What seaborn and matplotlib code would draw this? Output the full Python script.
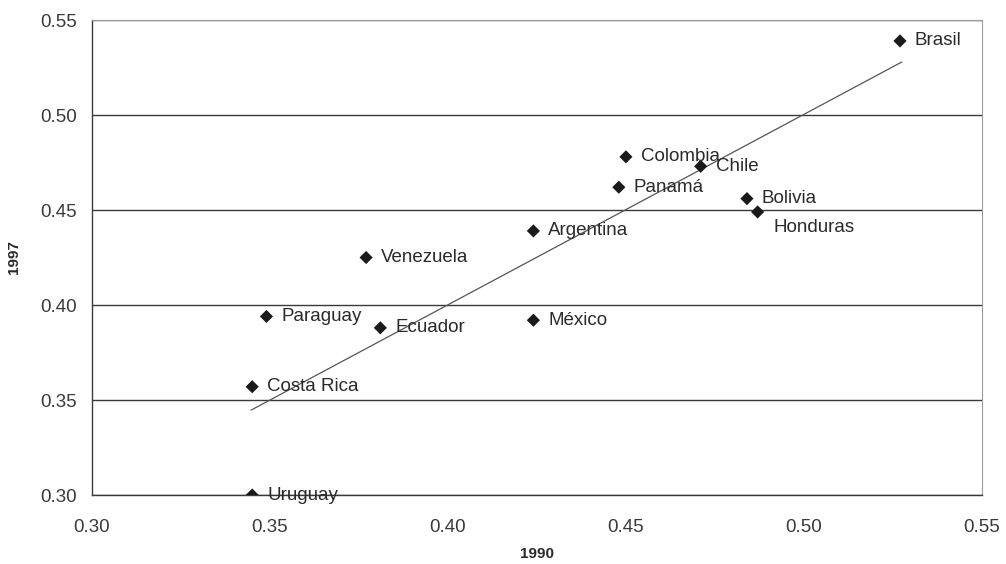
import matplotlib
matplotlib.use("Agg")
import matplotlib.pyplot as plt
import seaborn as sns
import pandas as pd

# Values (1990 vs 1997)
countries = ['Uruguay', 'Costa Rica', 'Paraguay', 'Venezuela', 'Ecuador', 'México',
             'Argentina', 'Colombia', 'Panamá', 'Chile', 'Bolivia', 'Honduras', 'Brasil']
y1990 = [0.345, 0.345, 0.349, 0.377, 0.381, 0.424, 0.424, 0.450, 0.448, 0.471, 0.484, 0.487, 0.527]
y1997 = [0.300, 0.357, 0.394, 0.425, 0.388, 0.392, 0.439, 0.478, 0.462, 0.473, 0.456, 0.449, 0.539]
# trend line as drawn in the chart (end points)
trend_x = [0.3447, 0.5275]
trend_y = [0.3447, 0.5279]
ticks = [0.30, 0.35, 0.40, 0.45, 0.50, 0.55]

df = pd.DataFrame({'pais': countries, '1990': y1990, '1997': y1997})
trend = pd.DataFrame({'x': trend_x, 'y': trend_y})

sns.set_style('white')
plt.rcParams['font.family'] = ['Liberation Sans', 'DejaVu Sans']

fig = plt.figure(figsize=(10.06, 5.64), dpi=100)
ax = fig.add_axes([0.0915, 0.1223, 0.8845, 0.8422])

# horizontal grid
for t in ticks:
    ax.axhline(t, color='#3a3a3a', lw=1.0, zorder=0)

sns.lineplot(data=trend, x='x', y='y', color='#555555', lw=0.9, ax=ax, zorder=2)

sns.scatterplot(data=df, x='1990', y='1997', marker='D', s=45, color='#1a1a1a',
                edgecolor='none', ax=ax, zorder=3)

for _, r in df.iterrows():
    off = (16, -16) if r['pais'] == 'Honduras' else (15, 0)
    ax.annotate(r['pais'], (r['1990'], r['1997']), xytext=off, textcoords='offset pixels',
                fontsize=13.5, color='#2a2a2a', va='center', ha='left')

ax.set_xlim(0.30, 0.55)
ax.set_ylim(0.30, 0.55)
ax.set_xticks(ticks)
ax.set_yticks(ticks)
ax.set_xticklabels([f'{t:.2f}' for t in ticks], fontsize=13.5, color='#3a3a3a')
ax.set_yticklabels([f'{t:.2f}' for t in ticks], fontsize=13.5, color='#3a3a3a')
ax.tick_params(axis='x', direction='in', length=4, color='#3a3a3a', pad=17)
ax.tick_params(axis='y', direction='out', length=5, color='#3a3a3a', pad=6)
ax.set_xlabel('1990', fontsize=11, fontweight='bold', color='#2a2a2a', labelpad=8)
ax.set_ylabel('1997', fontsize=11, fontweight='bold', color='#2a2a2a', labelpad=14)

for side in ['left', 'bottom']:
    ax.spines[side].set_color('#3a3a3a')
    ax.spines[side].set_linewidth(1.0)
for side in ['top', 'right']:
    ax.spines[side].set_color('#9a9a9a')
    ax.spines[side].set_linewidth(0.8)

fig.savefig('out.png', dpi=100)
